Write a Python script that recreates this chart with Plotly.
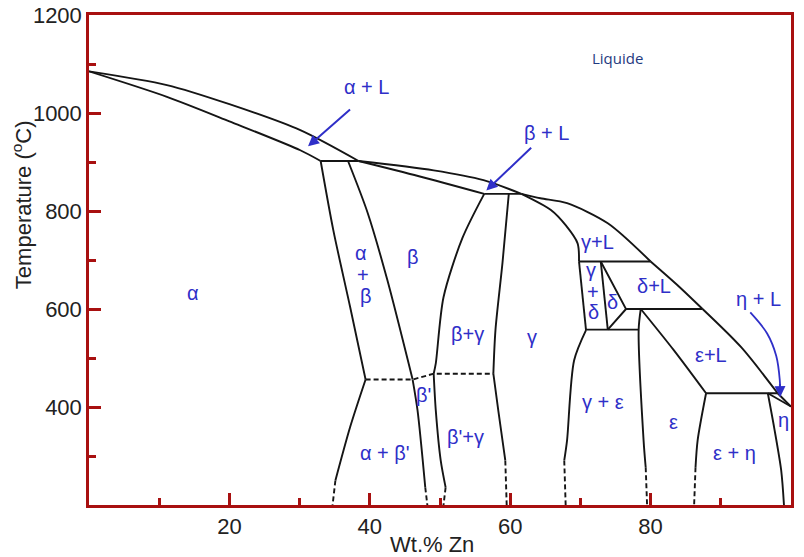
import plotly.graph_objects as go

# ---------------- phase boundary data (wt.% Zn, temperature in °C) ----------------
liq_cu_x = [0, 11.1, 20, 30.1, 38.4]
liq_cu_t = [1085, 1057, 1018, 965, 902]
sol_alpha_x = [0, 11.1, 20, 30.1, 33.0]
sol_alpha_t = [1085, 1033, 983, 924, 902]
per903_x = [33.0, 38.4]
per903_t = [902, 902]

alpha_bd_x = [33.0, 34.8, 37.2, 39.4]
alpha_bd_t = [902, 761, 604, 456]
alpha_low_x = [39.4, 37.2, 35.1]
alpha_low_t = [456, 359, 250]
alpha_low_dash_x = [35.1, 34.7]
alpha_low_dash_t = [250, 200]

beta_left_x = [36.9, 39.7, 42.5, 46.1]
beta_left_t = [902, 796, 659, 456]
betap_left_x = [46.1, 46.8, 47.9]
betap_left_t = [456, 393, 236]
betap_left_dash_x = [47.9, 48.2]
betap_left_dash_t = [236, 200]

order_x = [39.4, 46.1, 49.1, 57.6]
order_t = [456, 456, 468, 468]

sol_beta_x = [38.4, 47.0, 56.3]
sol_beta_t = [902, 871, 835]
liq_beta_x = [38.4, 49.1, 56.2, 61.6]
liq_beta_t = [902, 883, 863, 835]
per835_x = [56.3, 61.6]
per835_t = [835, 835]

beta_right_x = [56.3, 53.2, 50.5, 49.4, 49.1]
beta_right_t = [835, 745, 624, 489, 468]
betap_right_x = [49.1, 49.4, 50.1, 50.8]
betap_right_t = [468, 393, 291, 236]
betap_right_dash_x = [50.8, 50.5]
betap_right_dash_t = [236, 200]

gamma_left_x = [59.8, 58.9, 57.9, 57.6]
gamma_left_t = [835, 694, 557, 468]
gamma_left_low_x = [57.6, 58.3, 59.3]
gamma_left_low_t = [468, 393, 291]
gamma_left_dash_x = [59.3, 59.5]
gamma_left_dash_t = [291, 200]

liq_gamma_x = [61.6, 64.3, 68.1, 73.9, 80.0]
liq_gamma_t = [835, 826, 816, 775, 697]
sol_gamma_x = [61.6, 65.8, 67.9, 69.6, 69.8]
sol_gamma_t = [835, 802, 771, 734, 697]
per697_x = [69.8, 80.0]
per697_t = [697, 697]

gamma_right_x = [69.8, 70.8]
gamma_right_t = [697, 557]
gamma_right_low_x = [70.8, 69.1, 68.1, 67.7]
gamma_right_low_t = [557, 495, 332, 291]
gamma_right_dash_x = [67.7, 67.9]
gamma_right_dash_t = [291, 200]

delta_left_x = [72.9, 73.9]
delta_left_t = [697, 558]
delta_right_x = [72.9, 76.5, 73.9]
delta_right_t = [697, 600, 558]
eut558_x = [70.8, 78.3]
eut558_t = [558, 558]
per600_x = [76.5, 87.4]
per600_t = [600, 600]

liq_delta_x = [80.0, 83.8, 87.4]
liq_delta_t = [697, 649, 600]

eps_left_x = [78.6, 78.3, 79.0, 79.3]
eps_left_t = [600, 558, 332, 277]
eps_left_dash_x = [79.3, 79.5]
eps_left_dash_t = [277, 200]
eps_right_x = [78.6, 83.3, 87.9]
eps_right_t = [600, 516, 428]

liq_eps_x = [87.4, 92.9, 98.1]
liq_eps_t = [600, 522, 428]
liq_eta_x = [98.1, 100]
liq_eta_t = [428, 401]
per428_x = [87.9, 98.1]
per428_t = [428, 428]

eps_eta_x = [87.9, 86.7, 86.4]
eps_eta_t = [428, 332, 277]
eps_eta_dash_x = [86.4, 86.2]
eps_eta_dash_t = [277, 200]
eta_bd_x = [96.7, 97.6, 98.6, 99.0]
eta_bd_t = [428, 358, 271, 200]
eta_sol_x = [96.7, 100]
eta_sol_t = [428, 401]

# ---------------- labels ----------------
phase_labels = ["α", "α", "+", "β", "β", "β+γ", "γ", "β'", "α + β'", "β'+γ",
                "γ+L", "γ", "+", "δ", "δ", "δ+L", "η + L", "ε+L", "γ + ε", "ε", "ε + η", "η"]
phase_label_x = [14.8, 38.7, 39.1, 39.4, 46.2, 53.9, 63.1, 47.6, 42.2, 53.6,
                 72.5, 71.5, 71.8, 71.8, 74.6, 80.5, 95.3, 88.6, 73.2, 83.2, 91.9, 99.0]
phase_label_t = [632, 714, 669, 626, 706, 550, 542, 424, 307, 338,
                 736, 679, 634, 593, 614, 647, 620, 506, 410, 369, 307, 373]

arrow_labels = ["α + L", "β + L"]
arrow_label_x = [39.5, 65.2]
arrow_label_t = [1053, 959]
arrow_tail_x = [37.4, 63.2]
arrow_tail_t = [1010, 932]
arrow_head_x = [31.2, 56.6]
arrow_head_t = [932, 842]

eta_arrow_x = [94.2, 96.6, 97.9, 98.4, 98.45]
eta_arrow_t = [593, 550, 504, 455, 430]

x_tick_vals = [20, 40, 60, 80, 100]
x_minor_vals = [10, 30, 50, 70, 90]
y_tick_vals = [400, 600, 800, 1000, 1200]
y_minor_vals = [300, 500, 700, 900, 1100]

RED = "#a81010"
BLUE = "#2f2fc8"
INK = "#151515"

fig = go.Figure()

solid_curves = [
    (liq_cu_x, liq_cu_t, True), (sol_alpha_x, sol_alpha_t, True), (per903_x, per903_t, False),
    (alpha_bd_x, alpha_bd_t, True), (alpha_low_x, alpha_low_t, True),
    (beta_left_x, beta_left_t, True), (betap_left_x, betap_left_t, True),
    (sol_beta_x, sol_beta_t, True), (liq_beta_x, liq_beta_t, True), (per835_x, per835_t, False),
    (beta_right_x, beta_right_t, True), (betap_right_x, betap_right_t, True),
    (gamma_left_x, gamma_left_t, True), (gamma_left_low_x, gamma_left_low_t, True),
    (liq_gamma_x, liq_gamma_t, True), (sol_gamma_x, sol_gamma_t, True), (per697_x, per697_t, False),
    (gamma_right_x, gamma_right_t, False), (gamma_right_low_x, gamma_right_low_t, True),
    (delta_left_x, delta_left_t, False), (delta_right_x, delta_right_t, False),
    (eut558_x, eut558_t, False), (per600_x, per600_t, False), (liq_delta_x, liq_delta_t, True),
    (eps_left_x, eps_left_t, True), (eps_right_x, eps_right_t, True),
    (liq_eps_x, liq_eps_t, True), (liq_eta_x, liq_eta_t, False), (per428_x, per428_t, False),
    (eps_eta_x, eps_eta_t, True), (eta_bd_x, eta_bd_t, True), (eta_sol_x, eta_sol_t, False),
]
for xs, ts, smooth in solid_curves:
    fig.add_trace(go.Scatter(x=xs, y=ts, mode="lines", hoverinfo="skip", showlegend=False,
                             line=dict(color=INK, width=1.9,
                                       shape="spline" if smooth else "linear", smoothing=0.8)))

dashed_curves = [
    (alpha_low_dash_x, alpha_low_dash_t), (betap_left_dash_x, betap_left_dash_t),
    (order_x, order_t), (betap_right_dash_x, betap_right_dash_t),
    (gamma_left_dash_x, gamma_left_dash_t), (gamma_right_dash_x, gamma_right_dash_t),
    (eps_left_dash_x, eps_left_dash_t), (eps_eta_dash_x, eps_eta_dash_t),
]
for xs, ts in dashed_curves:
    fig.add_trace(go.Scatter(x=xs, y=ts, mode="lines", hoverinfo="skip", showlegend=False,
                             line=dict(color=INK, width=1.9, dash="5px,3px")))

# curved eta + L arrow body
fig.add_trace(go.Scatter(x=eta_arrow_x, y=eta_arrow_t, mode="lines", hoverinfo="skip",
                         showlegend=False, line=dict(color=BLUE, width=1.8, shape="spline")))

annotations = []
for txt, x, t in zip(phase_labels, phase_label_x, phase_label_t):
    annotations.append(dict(x=x, y=t, xref="x", yref="y", text=txt, showarrow=False,
                            font=dict(family="Arial", size=20, color=BLUE)))
for txt, x, t in zip(arrow_labels, arrow_label_x, arrow_label_t):
    annotations.append(dict(x=x, y=t, xref="x", yref="y", text=txt, showarrow=False,
                            font=dict(family="Arial", size=20, color=BLUE)))
for hx, ht, tx, tt in zip(arrow_head_x, arrow_head_t, arrow_tail_x, arrow_tail_t):
    annotations.append(dict(x=hx, y=ht, ax=tx, ay=tt, xref="x", yref="y", axref="x", ayref="y",
                            text="", showarrow=True, arrowhead=2, arrowsize=1.1, arrowwidth=2,
                            arrowcolor=BLUE))
annotations.append(dict(x=98.45, y=420, ax=98.42, ay=450, xref="x", yref="y", axref="x", ayref="y",
                        text="", showarrow=True, arrowhead=2, arrowsize=1.1, arrowwidth=2,
                        arrowcolor=BLUE))
annotations.append(dict(x=75.3, y=1112, xref="x", yref="y", text="Liquide", showarrow=False,
                        font=dict(family="Open Sans", size=15, color="#1f3a80")))
annotations.append(dict(x=0.4886, y=-0.08, xref="paper", yref="paper", text="Wt.% Zn",
                        showarrow=False, xanchor="center", yanchor="middle",
                        font=dict(family="Arial", size=22, color="#222")))
annotations.append(dict(x=-0.0954, y=0.612, xref="paper", yref="paper",
                        text="Temperature (<sup>o</sup>C)", textangle=-90, showarrow=False,
                        xanchor="center", yanchor="middle",
                        font=dict(family="Arial", size=22, color="#222")))

axis_common = dict(showgrid=False, zeroline=False, showline=True, linecolor=RED, linewidth=2.5,
                   mirror=True, ticks="inside", ticklen=12, tickwidth=2.5, tickcolor=RED,
                   automargin=False,
                   tickmode="array", tickfont=dict(family="Arial", size=22, color="#222"))

fig.update_layout(
    width=804, height=557,
    margin=dict(l=89, r=13, t=15, b=52),
    paper_bgcolor="white", plot_bgcolor="white",
    xaxis=dict(range=[0, 100], tickvals=x_tick_vals, ticktext=[str(v) for v in x_tick_vals],
               minor=dict(tickmode="array", tickvals=x_minor_vals, ticks="inside", ticklen=7,
                          tickwidth=2.5, tickcolor=RED, showgrid=False),
               **axis_common),
    yaxis=dict(range=[200, 1200], tickvals=y_tick_vals, ticktext=[str(v) for v in y_tick_vals],
               minor=dict(tickmode="array", tickvals=y_minor_vals, ticks="inside", ticklen=7,
                          tickwidth=2.5, tickcolor=RED, showgrid=False),
               **axis_common),
    annotations=annotations,
)

fig.write_html("out.html")
